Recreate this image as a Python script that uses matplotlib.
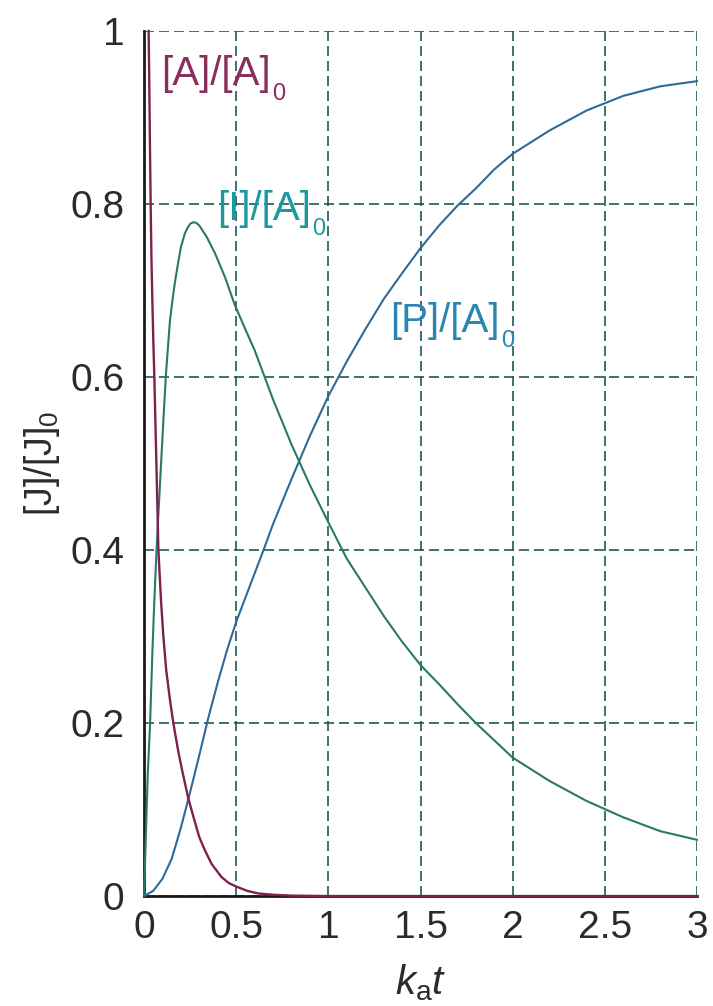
import matplotlib
matplotlib.use("Agg")
import matplotlib.pyplot as plt

plt.rcParams['font.family'] = ['Liberation Sans', 'DejaVu Sans']
plt.rcParams['mathtext.fontset'] = 'custom'
plt.rcParams['mathtext.rm'] = 'Liberation Sans'
plt.rcParams['mathtext.it'] = 'Liberation Sans:italic'

# ---- data ----
A_t = [0.025, 0.028, 0.032, 0.036, 0.04, 0.045, 0.05, 0.056, 0.067, 0.078, 0.092,
       0.105, 0.12, 0.14, 0.159, 0.186, 0.21, 0.24, 0.27, 0.3, 0.33, 0.367, 0.42,
       0.46, 0.5, 0.56, 0.62, 0.7, 0.8, 1.0, 1.5, 2.0, 2.5, 3.0]
A_v = [1.0, 0.95, 0.87, 0.8, 0.74, 0.69, 0.645, 0.6, 0.5, 0.4, 0.342,
       0.3, 0.262, 0.228, 0.2, 0.167, 0.142, 0.113, 0.09, 0.068, 0.053, 0.037, 0.022,
       0.015, 0.011, 0.006, 0.003, 0.0015, 0.0005, 0.0, 0.0, 0.0, 0.0, 0.0]

I_t = [0, 0.005, 0.01, 0.02, 0.033, 0.045, 0.056, 0.068, 0.08, 0.09, 0.105, 0.118,
       0.13, 0.141, 0.155, 0.168, 0.185, 0.2, 0.22, 0.235, 0.25, 0.267, 0.285, 0.3,
       0.34, 0.385, 0.44, 0.493, 0.55, 0.6, 0.7, 0.8, 0.9, 1.0, 1.1, 1.2, 1.3, 1.4,
       1.5, 1.6, 1.7, 1.8, 1.9, 2.0, 2.2, 2.4, 2.6, 2.8, 3.0]
I_v = [0, 0.035, 0.07, 0.14, 0.2, 0.28, 0.342, 0.4, 0.45, 0.49, 0.55, 0.6,
       0.635, 0.666, 0.69, 0.71, 0.732, 0.75, 0.765, 0.772, 0.777, 0.779, 0.778, 0.775,
       0.762, 0.743, 0.715, 0.683, 0.655, 0.631, 0.574, 0.522, 0.475, 0.432, 0.39, 0.357,
       0.324, 0.294, 0.267, 0.245, 0.222, 0.2, 0.18, 0.16, 0.133, 0.11, 0.091, 0.075, 0.065]

P_t = [0, 0.05, 0.1, 0.15, 0.2, 0.25, 0.3, 0.35, 0.4, 0.45, 0.5, 0.55, 0.6, 0.65,
       0.7, 0.8, 0.9, 1.0, 1.1, 1.2, 1.3, 1.4, 1.5, 1.6, 1.7, 1.8, 1.9, 2.0, 2.2,
       2.4, 2.6, 2.8, 3.0]
P_v = [0, 0.006, 0.02, 0.043, 0.079, 0.12, 0.163, 0.207, 0.247, 0.284, 0.317, 0.345,
       0.373, 0.401, 0.43, 0.482, 0.532, 0.578, 0.618, 0.655, 0.69, 0.72, 0.749, 0.775,
       0.798, 0.818, 0.84, 0.858, 0.885, 0.908, 0.925, 0.936, 0.942]

x_ticks = [0, 0.5, 1, 1.5, 2, 2.5, 3]
x_tick_labels = ["0", "0.5", "1", "1.5", "2", "2.5", "3"]
y_ticks = [0, 0.2, 0.4, 0.6, 0.8, 1]
y_tick_labels = ["0", "0.2", "0.4", "0.6", "0.8", "1"]

col_A = "#7e2150"
col_I = "#2a7868"
col_P = "#2f6a96"
grid_col = "#1f5a55"

fig = plt.figure(figsize=(7.13, 10.06), dpi=100)
ax = fig.add_axes([0.202, 0.1093, 0.7756, 0.8599])

ax.set_xlim(0, 3)
ax.set_ylim(0, 1)

ax.set_xticks(x_ticks)
ax.set_xticklabels(x_tick_labels)
ax.set_yticks(y_ticks)
ax.set_yticklabels(y_tick_labels)
ax.tick_params(length=0, labelsize=28, labelcolor="#2b2b2b")
ax.tick_params(axis='x', pad=10)
ax.tick_params(axis='y', pad=14)

for v in x_ticks:
    ax.axvline(v, color=grid_col, lw=1.2, ls=(0, (6, 3)), zorder=1)
for v in y_ticks:
    ax.axhline(v, color=grid_col, lw=1.2, ls=(0, (6, 3)), zorder=1)

for s in ["top", "right"]:
    ax.spines[s].set_visible(False)
for s in ["left", "bottom"]:
    ax.spines[s].set_color("#1a1a1a")
    ax.spines[s].set_linewidth(2.0)
    ax.spines[s].set_zorder(2)

ax.plot(P_t, P_v, color=col_P, lw=1.5, zorder=3, clip_on=False)
ax.plot(I_t, I_v, color=col_I, lw=1.5, zorder=3, clip_on=False)
ax.plot(A_t, A_v, color=col_A, lw=1.7, zorder=4, clip_on=False)


def label(x, y, main, color):
    t = ax.text(x, y, main, color=color, fontsize=29, va="baseline", ha="left")
    ax.annotate("0", xy=(1.0, 0.0), xycoords=t, xytext=(1, -5),
                textcoords="offset points", color=color, fontsize=17,
                va="baseline", ha="left")


label(0.095, 0.937, "[A]/[A]", "#8a2e5e")
label(0.395, 0.782, "[I]/[A]", "#1a9a9e")
label(1.335, 0.652, "[P]/[A]", "#2a86b0")

ax.set_ylabel(r"[J]/[J]$_0$", fontsize=27, color="#2b2b2b", labelpad=6)
ax.set_xlabel(r"$k_\mathrm{a}t$", fontsize=29, color="#2b2b2b", labelpad=12)

fig.savefig("out.png", dpi=100)
